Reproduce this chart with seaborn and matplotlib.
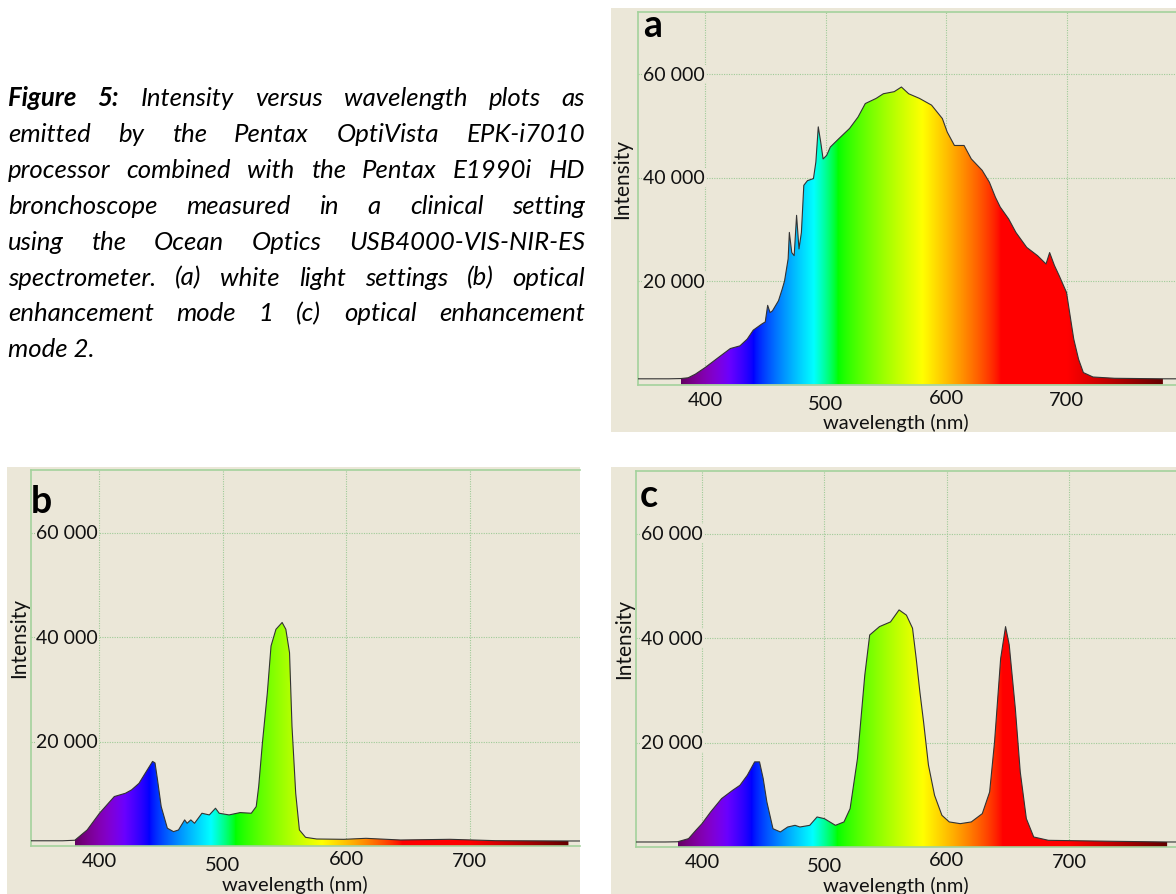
import numpy as np
import matplotlib
matplotlib.use('Agg')
import matplotlib.pyplot as plt
from matplotlib.patches import Rectangle
from matplotlib.transforms import blended_transform_factory, offset_copy
import seaborn as sns

# spectra (wavelength in nm, intensity in counts)
# (a) white light
wl_a = [344, 370, 380, 386, 392, 400, 411, 421, 429, 435, 440, 447, 450, 452, 454,
        456, 461, 464, 466, 469, 470, 472, 474, 476, 478, 480, 482, 485, 490, 492,
        494, 496, 498, 501, 504, 511, 520, 527, 533, 542, 548, 557, 563, 569, 578,
        588, 597, 601, 607, 615, 621, 630, 636, 641, 645, 652, 658, 667, 676, 683,
        686, 690, 694, 700, 703, 706, 710, 714, 722, 740, 780, 815]
int_a = [1100, 1100, 1150, 1300, 2000, 3260, 5200, 6950, 7470, 8770, 10500, 11670, 12100, 15300, 13900,
         14250, 16200, 18400, 20000, 24300, 29400, 25500, 24900, 32700, 26200, 29400, 38500, 39400, 39800, 43000,
         49800, 46900, 43600, 44300, 45900, 47500, 49500, 51700, 54300, 55300, 56200, 56600, 57500, 56200, 55300,
         54000, 51400, 48800, 46200, 46200, 43600, 41400, 39100, 36200, 34300, 32000, 29400, 26500, 24900, 23300,
         25500, 23000, 21000, 17800, 13300, 8800, 4900, 2300, 1450, 1200, 1100, 1100]

# (b) optical enhancement mode 1
wl_b = [344, 370, 380, 390, 400, 412, 421, 426, 432, 438, 443, 445, 447, 450, 455,
        460, 464, 469, 471, 474, 477, 483, 489, 494, 497, 505, 514, 523, 527, 529,
        532, 536, 539, 543, 548, 551, 554, 556, 559, 562, 567, 576, 598, 616, 644,
        684, 721, 780, 800]
int_b = [1000, 1000, 1100, 3070, 6270, 9470, 10100, 10750, 12000, 14300, 16200, 15900, 12700, 7550, 3400,
         2750, 3070, 5000, 4350, 5000, 4350, 6270, 5950, 7230, 6270, 5950, 6400, 6270, 7550, 11400,
         19700, 29300, 38300, 41500, 42800, 41500, 37000, 22900, 10100, 3070, 1660, 1340, 1280, 1470, 1150,
         1280, 1020, 960, 960]

# (c) optical enhancement mode 2
wl_c = [346, 370, 380, 389, 395, 400, 407, 416, 425, 431, 437, 443, 447, 450, 453,
        458, 464, 470, 476, 480, 488, 494, 500, 509, 516, 521, 527, 533, 537, 545,
        554, 561, 567, 572, 575, 578, 581, 585, 590, 596, 602, 611, 620, 629, 635,
        639, 644, 648, 651, 656, 660, 665, 671, 683, 737, 780, 810]
int_c = [960, 960, 1000, 1600, 3200, 4470, 6700, 9270, 10860, 11820, 13740, 16300, 16300, 13100, 8630,
         3500, 2880, 3830, 4150, 3830, 4150, 5750, 5430, 4150, 4800, 7350, 16900, 32900, 40600, 42200,
         43100, 45400, 44400, 41900, 36100, 29700, 24000, 15700, 9900, 6070, 4800, 4470, 4800, 6390, 10540,
         20100, 36100, 42200, 38700, 26500, 14400, 5430, 1920, 1280, 1090, 960, 960]

panel_labels = ['a', 'b', 'c']
x_ticks = [400, 500, 600, 700]
y_ticks = [20000, 40000, 60000]
x_title = 'wavelength (nm)'
y_title = 'Intensity'

caption_lines = [
    'Figure 5: Intensity versus wavelength plots as',
    'emitted by the Pentax OptiVista EPK-i7010',
    'processor combined with the Pentax E1990i HD',
    'bronchoscope measured in a clinical setting',
    'using the Ocean Optics USB4000-VIS-NIR-ES',
    'spectrometer. (a) white light settings (b) optical',
    'enhancement mode 1 (c) optical enhancement',
    'mode 2.',
]

BEIGE = '#ebe7d8'
GREEN = '#a4d29c'
GRID = '#9fcb98'
INK = '#111111'


def wavelength_rgb(w):
    """Visible-spectrum colour for a wavelength (Bruton style)."""
    w = np.asarray(w, dtype=float)
    r = np.zeros_like(w); g = np.zeros_like(w); b = np.zeros_like(w)
    m = (w >= 380) & (w < 440); r[m] = (440 - w[m]) / 60; b[m] = 1
    m = (w >= 440) & (w < 490); g[m] = (w[m] - 440) / 50; b[m] = 1
    m = (w >= 490) & (w < 510); g[m] = 1; b[m] = (510 - w[m]) / 20
    m = (w >= 510) & (w < 580); r[m] = (w[m] - 510) / 70; g[m] = 1
    m = (w >= 580) & (w < 645); r[m] = 1; g[m] = (645 - w[m]) / 65
    m = (w >= 645) & (w <= 780); r[m] = 1
    f = np.ones_like(w)
    m = w < 420; f[m] = 0.3 + 0.7 * (w[m] - 380) / 40
    m = w > 700; f[m] = 0.3 + 0.7 * (780 - w[m]) / 80
    rgb = np.stack([r, g, b], axis=-1) * f[:, None]
    return np.clip(rgb, 0, 1) ** 0.8


sns.set_theme(style='white')
plt.rcParams['font.family'] = ['Lato', 'DejaVu Sans']

W, H = 1176, 895
fig = plt.figure(figsize=(W / 100, H / 100), dpi=100, facecolor='white')

# pixel layout of each screenshot panel
layout = [
    dict(box=(611, 9, 1176, 433), left=638, top=13, bottom=385.5, right=1200, x400=705, pxnm=1.205,
         letter=(643, 37), ylab_dx=16),
    dict(box=(7, 468, 580, 895), left=31, top=471, bottom=847, right=580, x400=99.5, pxnm=1.234,
         letter=(31, 513), ylab_dx=12),
    dict(box=(611, 468, 1176, 895), left=636, top=472, bottom=848, right=1200, x400=702, pxnm=1.224,
         letter=(640, 507), ylab_dx=12),
]
spectra = [(wl_a, int_a), (wl_b, int_b), (wl_c, int_c)]
tick_dy = {400: 0, 500: 4, 600: -2, 700: 0}

for lab, lay, (wl, inten) in zip(panel_labels, layout, spectra):
    x0, y0, x1, y1 = lay['box']
    fig.patches.append(Rectangle((x0 / W, 1 - y1 / H), (x1 - x0) / W, (y1 - y0) / H,
                                 transform=fig.transFigure, facecolor=BEIGE, edgecolor='none', zorder=-5))
    ax = fig.add_axes([lay['left'] / W, 1 - lay['bottom'] / H,
                       (lay['right'] - lay['left']) / W, (lay['bottom'] - lay['top']) / H])
    ax.set_zorder(1)
    ax.set_facecolor(BEIGE)

    wl = np.array(wl, dtype=float)
    inten = np.array(inten, dtype=float)
    vis = (wl >= 380) & (wl <= 780)
    poly = ax.fill_between(wl[vis], 0, inten[vis], facecolor='none', edgecolor='none')
    grad_wl = np.linspace(380, 780, 801)
    img = wavelength_rgb(grad_wl)[None, :, :]
    im = ax.imshow(img, extent=[380, 780, 0, 72000], aspect='auto', origin='lower',
                   interpolation='bilinear', zorder=1.5)
    im.set_clip_path(poly.get_paths()[0], transform=ax.transData)

    sns.lineplot(x=wl, y=inten, ax=ax, color='#333333', linewidth=0.8, estimator=None, zorder=3)

    xmin = 400 - (lay['x400'] - lay['left']) / lay['pxnm']
    ax.set_xlim(xmin, xmin + (lay['right'] - lay['left']) / lay['pxnm'])
    ax.set_ylim(0, 72000)
    ax.set_xticks(x_ticks)
    ax.set_yticks(y_ticks)
    ax.tick_params(length=0, labelbottom=False, labelleft=False)
    ax.set_xlabel('')
    ax.set_ylabel('')
    ax.grid(True, color=GRID, linestyle=(0, (1, 1.2)), linewidth=0.8)
    ax.set_axisbelow(True)
    for s in ['left', 'top', 'bottom']:
        ax.spines[s].set_color(GREEN)
        ax.spines[s].set_linewidth(1.2)
    ax.spines['right'].set_visible(False)

    # y tick labels sit inside the plot
    ytr = offset_copy(blended_transform_factory(ax.transAxes, ax.transData), fig=fig, x=5, y=0, units='dots')
    for v in y_ticks:
        ax.text(0, v, f'{v:,}'.replace(',', ' '), transform=ytr, ha='left', va='center',
                fontsize=14, color=INK, zorder=4,
                bbox=dict(facecolor=BEIGE, edgecolor='none', pad=0.5))
    for v in x_ticks:
        xtr = offset_copy(blended_transform_factory(ax.transData, ax.transAxes), fig=fig,
                          x=0, y=-15 - tick_dy[v], units='dots')
        ax.text(v, 0, str(v), transform=xtr, ha='center', va='center', fontsize=14.5,
                color=INK, clip_on=False)
    ltr = offset_copy(blended_transform_factory(ax.transData, ax.transAxes), fig=fig, x=0, y=-37.5, units='dots')
    ax.text(558, 0, x_title, transform=ltr, ha='center', va='center', fontsize=14.5, color=INK)
    itr = offset_copy(blended_transform_factory(ax.transAxes, ax.transData), fig=fig,
                      x=-lay['ylab_dx'], y=0, units='dots')
    ax.text(0, 40000, y_title, transform=itr, ha='center', va='center', rotation=90,
            fontsize=15, color=INK)
    lx, ly = lay['letter']
    fig.text(lx / W, 1 - ly / H, lab, fontsize=27, fontweight='bold', ha='left', va='baseline',
             color='black', zorder=5)

# justified caption
renderer = fig.canvas.get_renderer()
cap_left, cap_right, cap_fs = 8, 585, 18.5
for i, line in enumerate(caption_lines):
    yb = 1 - (106 + 35.9 * i) / H
    if i == len(caption_lines) - 1:
        fig.text(cap_left / W, yb, line, fontsize=cap_fs, style='italic', va='baseline', ha='left',
                 color='black')
        continue
    words = line.split()
    texts = []
    for j, w in enumerate(words):
        bold = i == 0 and j < 2
        texts.append(fig.text(0, yb, w, fontsize=cap_fs, style='italic', color='black',
                              fontweight='bold' if bold else 'normal', va='baseline', ha='left'))
    widths = [t.get_window_extent(renderer).width for t in texts]
    gap = (cap_right - cap_left - sum(widths)) / (len(words) - 1)
    x = cap_left
    for t, w in zip(texts, widths):
        t.set_x(x / W)
        x += w + gap

fig.savefig('out.png', dpi=100, facecolor='white')
